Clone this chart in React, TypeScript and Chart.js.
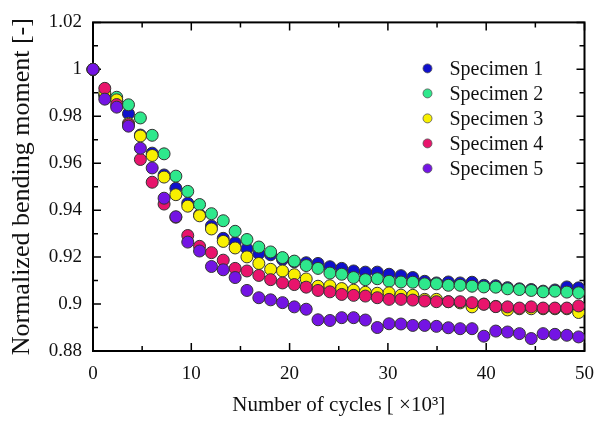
import { useEffect, useRef } from "react";
import { Chart, registerables } from "chart.js";

Chart.register(...registerables);

// Number of cycles [×10³]
const cycles = [
  0, 1.2, 2.41, 3.61, 4.82, 6.02, 7.23, 8.43, 9.64, 10.84,
  12.05, 13.25, 14.46, 15.66, 16.87, 18.07, 19.28, 20.48, 21.69, 22.89,
  24.1, 25.3, 26.51, 27.71, 28.92, 30.12, 31.33, 32.53, 33.74, 34.94,
  36.15, 37.35, 38.56, 39.76, 40.97, 42.17, 43.38, 44.58, 45.79, 46.99,
  48.2, 49.4,
];

const specimen1 = [
  1.0, 0.989, 0.987, 0.9811, 0.972, 0.9643, 0.955, 0.9493, 0.943, 0.938,
  0.9333, 0.928, 0.9261, 0.9236, 0.9215, 0.921, 0.919, 0.918, 0.9176, 0.9173,
  0.9159, 0.9152, 0.9141, 0.9136, 0.9136, 0.9127, 0.9121, 0.9113, 0.9097, 0.909,
  0.9094, 0.909, 0.9093, 0.908, 0.9078, 0.907, 0.9065, 0.9062, 0.9055, 0.906,
  0.9073, 0.9069,
];
const specimen2 = [
  1.0, 0.989, 0.9881, 0.9849, 0.9793, 0.9719, 0.964, 0.9545, 0.948, 0.9424,
  0.9385, 0.9355, 0.931, 0.9275, 0.9243, 0.9222, 0.9198, 0.9183, 0.9164, 0.9152,
  0.9132, 0.9127, 0.9113, 0.9104, 0.9108, 0.9097, 0.9094, 0.9093, 0.9086, 0.9086,
  0.908, 0.908, 0.9076, 0.9073, 0.9072, 0.9065, 0.9062, 0.9058, 0.9052, 0.9055,
  0.9051, 0.9048,
];
const specimen3 = [
  1.0, 0.99, 0.987, 0.977, 0.9716, 0.9633, 0.9541, 0.9466, 0.9417, 0.9376,
  0.932, 0.9267, 0.9239, 0.9201, 0.9173, 0.9148, 0.9141, 0.9125, 0.9107, 0.9076,
  0.9078, 0.9066, 0.9059, 0.905, 0.9046, 0.9048, 0.9038, 0.9037, 0.902, 0.902,
  0.901, 0.9005, 0.8988, 0.9, 0.899, 0.8975, 0.898, 0.898, 0.898, 0.898,
  0.898, 0.8964,
];
const specimen4 = [
  1.0, 0.9919, 0.985, 0.9765, 0.9616, 0.9519, 0.9426, 0.937, 0.9292, 0.9246,
  0.9219, 0.9187, 0.9152, 0.9141, 0.9122, 0.9104, 0.909, 0.9083, 0.9072, 0.9058,
  0.9052, 0.9041, 0.9037, 0.9034, 0.9027, 0.902, 0.902, 0.9017, 0.9013, 0.901,
  0.901, 0.901, 0.9006, 0.8999, 0.8989, 0.8988, 0.8983, 0.8988, 0.8983, 0.8983,
  0.8983, 0.8992,
];
const specimen5 = [
  1.0, 0.9873, 0.9839, 0.9758, 0.9664, 0.958, 0.9451, 0.9372, 0.9264, 0.9226,
  0.916, 0.9146, 0.9113, 0.9058, 0.9027, 0.9018, 0.9006, 0.8988, 0.8978, 0.8933,
  0.893, 0.8942, 0.8942, 0.8932, 0.89, 0.8916, 0.8915, 0.8909, 0.8909, 0.8905,
  0.8899, 0.8895, 0.8895, 0.8863, 0.8885, 0.8881, 0.8874, 0.8853, 0.8874, 0.8871,
  0.8867, 0.886,
];

const seriesValues = [specimen1, specimen2, specimen3, specimen4, specimen5];
const seriesNames = ["Specimen 1", "Specimen 2", "Specimen 3", "Specimen 4", "Specimen 5"];
const seriesColors = ["#1010cc", "#2ee88c", "#f8f000", "#e8146c", "#7414e4"];
const seriesOrder = [5, 4, 3, 2, 1];

const xTicks = [0, 10, 20, 30, 40, 50];
const xTickLabels = ["0", "10", "20", "30", "40", "50"];
const xMinorTicks = [5, 15, 25, 35, 45];
const yTicks = [0.88, 0.9, 0.92, 0.94, 0.96, 0.98, 1.0, 1.02];
const yTickLabels = ["0.88", "0.9", "0.92", "0.94", "0.96", "0.98", "1", "1.02"];
const yMinorTicks = [0.89, 0.91, 0.93, 0.95, 0.97, 0.99, 1.01];

const xTitle = "Number of cycles [ ×10³]";
const yTitle = "Normalized bending moment [-]";

const FONT = '"Liberation Serif", "Times New Roman", "DejaVu Serif", serif';

const framePlugin = {
  id: "frameTicks",
  beforeDatasetsDraw(chart: any) {
    const { ctx, chartArea: a, scales } = chart;
    const xs = scales.x;
    const ys = scales.y;
    ctx.save();
    ctx.strokeStyle = "#000";
    ctx.lineWidth = 2;
    ctx.strokeRect(a.left, a.top, a.right - a.left, a.bottom - a.top);
    ctx.lineWidth = 1.5;
    ctx.beginPath();
    const xt = (vals: number[], len: number) => {
      vals.forEach((v) => {
        const px = xs.getPixelForValue(v);
        ctx.moveTo(px, a.bottom);
        ctx.lineTo(px, a.bottom - len);
        ctx.moveTo(px, a.top);
        ctx.lineTo(px, a.top + len);
      });
    };
    const yt = (vals: number[], len: number) => {
      vals.forEach((v) => {
        const py = ys.getPixelForValue(v);
        ctx.moveTo(a.left, py);
        ctx.lineTo(a.left + len, py);
        ctx.moveTo(a.right, py);
        ctx.lineTo(a.right - len, py);
      });
    };
    xt(xTicks, 8);
    xt(xMinorTicks, 5);
    yt(yTicks, 8);
    yt(yMinorTicks, 5);
    ctx.stroke();
    ctx.restore();
  },
};

const legendPlugin = {
  id: "insideLegend",
  afterDatasetsDraw(chart: any) {
    const { ctx, chartArea: a } = chart;
    ctx.save();
    ctx.font = `20px ${FONT}`;
    ctx.textBaseline = "middle";
    ctx.textAlign = "left";
    chart.data.datasets.forEach((ds: any, i: number) => {
      const x = a.right - 157;
      const y = a.top + 46 + i * 25;
      ctx.beginPath();
      ctx.arc(x, y, 4.5, 0, Math.PI * 2);
      ctx.fillStyle = ds.backgroundColor;
      ctx.fill();
      ctx.lineWidth = 0.8;
      ctx.strokeStyle = "#555";
      ctx.stroke();
      ctx.fillStyle = "#111";
      ctx.fillText(ds.label, x + 22, y + 1);
    });
    ctx.restore();
  },
};

export default function App() {
  const canvasRef = useRef<HTMLCanvasElement | null>(null);

  useEffect(() => {
    if (!canvasRef.current) return;
    const datasets = seriesValues.map((vals, i) => ({
      label: seriesNames[i],
      data: vals.map((v, j) => ({ x: cycles[j], y: v })),
      backgroundColor: seriesColors[i],
      borderColor: "#333",
      pointBackgroundColor: seriesColors[i],
      pointBorderColor: "#333",
      pointBorderWidth: 1,
      pointRadius: 6,
      showLine: false,
      order: seriesOrder[i],
      clip: false as any,
    }));

    const chart = new Chart(canvasRef.current, {
      type: "scatter",
      data: { datasets },
      options: {
        animation: false,
        responsive: true,
        maintainAspectRatio: false,
        events: [],
        layout: { padding: { top: 16, right: 13, left: 0, bottom: 0 } },
        plugins: {
          legend: { display: false },
          tooltip: { enabled: false },
        },
        scales: {
          x: {
            type: "linear",
            min: 0,
            max: 50,
            grid: { display: false, drawTicks: false },
            border: { display: false },
            afterBuildTicks: (scale: any) => {
              scale.ticks = xTicks.map((v) => ({ value: v }));
            },
            afterFit: (scale: any) => {
              scale.height = 78;
            },
            ticks: {
              autoSkip: false,
              maxRotation: 0,
              padding: 12,
              color: "#111",
              font: { family: FONT, size: 19 },
              callback: (_v: any, i: number) => xTickLabels[i],
            },
            title: {
              display: true,
              text: xTitle,
              color: "#111",
              font: { family: FONT, size: 21 },
              padding: { top: 0, bottom: 11 },
            },
          },
          y: {
            type: "linear",
            min: 0.88,
            max: 1.02,
            grid: { display: false, drawTicks: false },
            border: { display: false },
            afterBuildTicks: (scale: any) => {
              scale.ticks = yTicks.map((v) => ({ value: v }));
            },
            afterFit: (scale: any) => {
              scale.width = 93;
            },
            ticks: {
              autoSkip: false,
              padding: 11,
              color: "#111",
              font: { family: FONT, size: 19 },
              callback: (_v: any, i: number) => yTickLabels[i],
            },
            title: {
              display: true,
              text: yTitle,
              color: "#111",
              font: { family: FONT, size: 26, lineHeight: 1 },
              padding: { top: 9, bottom: 0 },
            },
          },
        },
      },
      plugins: [framePlugin, legendPlugin],
    });

    return () => chart.destroy();
  }, []);

  return (
    <div style={{ position: "fixed", left: 0, top: 0, width: "606px", height: "429px", background: "#fff" }}>
      <canvas ref={canvasRef} />
    </div>
  );
}
